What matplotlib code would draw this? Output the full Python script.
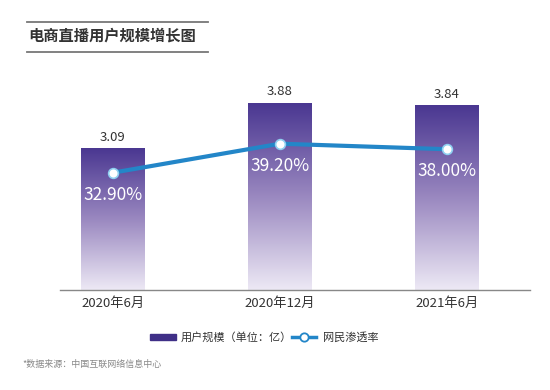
import matplotlib
matplotlib.use("Agg")
import matplotlib.pyplot as plt
import numpy as np
from matplotlib.colors import LinearSegmentedColormap
from matplotlib.patches import Rectangle
from matplotlib.lines import Line2D

plt.rcParams['font.family'] = ['Noto Sans CJK SC', 'DejaVu Sans']

categories = ["2020年6月", "2020年12月", "2021年6月"]
users = [3.09, 3.88, 3.84]
penetration = [32.90, 39.20, 38.00]
title = "电商直播用户规模增长图"
bar_label = "用户规模（单位：亿）"
line_label = "网民渗透率"
source = "*数据来源：中国互联网络信息中心"

W, H = 550, 390
fig = plt.figure(figsize=(W / 100, H / 100), dpi=100)
fig.patch.set_facecolor("white")

def fx(px): return px / W
def fy(py): return 1 - py / H

ax_left, ax_right, ax_top, ax_bottom = 60, 530, 60, 290
ax = fig.add_axes([fx(ax_left), fy(ax_bottom), (ax_right - ax_left) / W, (ax_bottom - ax_top) / H])
for s in ["top", "right", "left"]:
    ax.spines[s].set_visible(False)
ax.spines["bottom"].set_color("#888888")
ax.spines["bottom"].set_linewidth(1.0)
ax.set_yticks([])
x = np.arange(len(categories))
ax.set_xticks(x)
ax.set_xticklabels(categories, fontsize=9.5, color="#333333", fontweight="medium")
ax.tick_params(axis="x", length=0, pad=5)

cmap = LinearSegmentedColormap.from_list("g", ["#ede9f5", "#9a88c0", "#4a3791"])
grad = np.linspace(0, 1, 256).reshape(-1, 1)
width = 0.38
bars = ax.bar(x, users, width=width, color="none", zorder=2)
for b, v in zip(bars, users):
    x0 = b.get_x()
    im = ax.imshow(grad, cmap=cmap, aspect="auto", origin="lower",
                   extent=[x0, x0 + width, 0.6, v], zorder=2)
    im.set_clip_path(b)
    ax.text(b.get_x() + width / 2, v + 0.08, f"{v:.2f}", ha="center", va="bottom",
            fontsize=9.5, color="#333333")
ax.set_xlim(-0.317, 2.497)
ax.set_ylim(0.6, 4.635)

ax2 = ax.twinx()
ax2.set_ylim(7.39, 57.4)
ax2.axis("off")
ax2.plot(x, penetration, color="#2386c8", linewidth=3, zorder=3)
ax2.plot(x, penetration, linestyle="none", marker="o", markersize=7,
         markerfacecolor="white", markeredgecolor="#8fd0f0", markeredgewidth=1.2, zorder=4)
for xi, p in zip(x, penetration):
    ax2.text(xi, p - 4.8, f"{p:.2f}%", ha="center", va="center", fontsize=12.5,
             color="white", fontweight="medium", zorder=5)

# title and rules
fig.text(fx(28), fy(36), title, fontsize=11, fontweight="bold", color="#333333",
         ha="left", va="center")
fig.add_artist(Line2D([fx(27), fx(208)], [fy(22), fy(22)], color="#777777", linewidth=1.3))
fig.add_artist(Line2D([fx(27), fx(208)], [fy(52), fy(52)], color="#777777", linewidth=1.3))

# legend
fig.add_artist(Rectangle((fx(150), fy(340)), 26 / W, 6 / H, color="#3f2f87",
                         transform=fig.transFigure))
fig.text(fx(181), fy(337), bar_label, fontsize=8, color="#333333", ha="left", va="center",
         fontweight="medium")
fig.add_artist(Line2D([fx(292), fx(316)], [fy(337), fy(337)], color="#2386c8", linewidth=2.5))
fig.add_artist(Line2D([fx(304)], [fy(337)], marker="o", markersize=6, markerfacecolor="white",
                      markeredgecolor="#2386c8", markeredgewidth=1.3, linestyle="none"))
fig.text(fx(323), fy(337), line_label, fontsize=8, color="#333333", ha="left", va="center",
         fontweight="medium")

fig.text(fx(22), fy(364), source, fontsize=6.5, color="#888888", ha="left", va="center")

fig.savefig("out.png", dpi=100, facecolor="white")
